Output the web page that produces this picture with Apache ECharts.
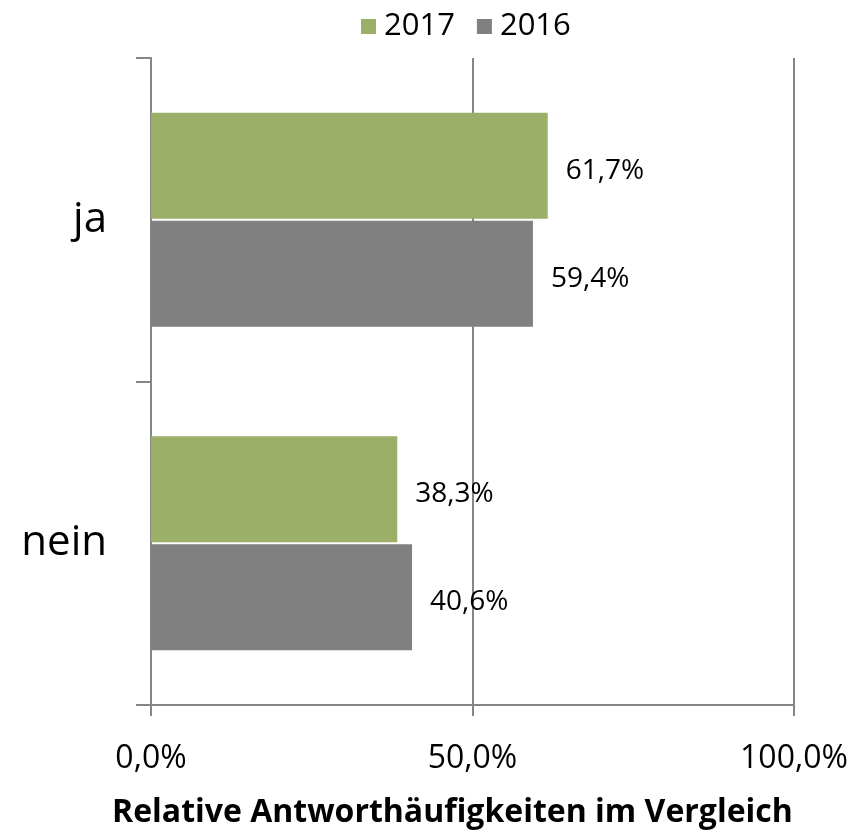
<!DOCTYPE html>
<html>
<head>
<meta charset="utf-8">
<script src="https://cdn.jsdelivr.net/npm/echarts@6/dist/echarts.min.js"></script>
<style>
  html, body { margin: 0; padding: 0; background: #fff; }
  #chart { width: 860px; height: 839px; }
</style>
</head>
<body>
<div id="chart"></div>
<script>
  'use strict';
  var categories = ['ja', 'nein'];
  var seriesNames = ['2017', '2016'];
  var values2017 = [61.7, 38.3];
  var values2016 = [59.4, 40.6];
  var xTicks = { min: 0, max: 100, interval: 50 };

  var fontFamily = '"Open Sans", Lato, sans-serif';
  var lineColor = '#868686';

  function pct(v) {
    return v.toFixed(1).replace('.', ',') + '%';
  }

  function barSeries(name, data, color) {
    return {
      name: name,
      type: 'bar',
      data: data,
      barWidth: 106,
      barGap: '2%',
      itemStyle: { color: color },
      label: {
        show: true,
        position: 'right',
        distance: 18,
        offset: [0, 5],
        fontFamily: fontFamily,
        fontSize: 28,
        color: '#000',
        formatter: function(p) { return pct(p.value); }
      }
    };
  }

  var chart = echarts.init(document.getElementById('chart'));
  chart.setOption({
    backgroundColor: '#fff',
    animation: false,
    textStyle: { fontFamily: fontFamily },
    legend: {
      top: 6,
      left: 356,
      itemWidth: 15,
      itemHeight: 15,
      itemGap: 22,
      icon: 'rect',
      textStyle: { fontFamily: fontFamily, fontSize: 31, color: '#000', padding: [0, 0, 0, 3] },
      data: seriesNames
    },
    title: {
      text: 'Relative Antworthäufigkeiten im Vergleich',
      left: 107,
      top: 792,
      textStyle: { fontFamily: fontFamily, fontSize: 32, fontWeight: 'bold', color: '#000' }
    },
    grid: { left: 151, right: 66, top: 58, bottom: 134, containLabel: false },
    xAxis: {
      type: 'value',
      min: xTicks.min,
      max: xTicks.max,
      interval: xTicks.interval,
      axisLine: { show: true, lineStyle: { color: lineColor, width: 2 } },
      axisTick: { show: true, length: 11, lineStyle: { color: lineColor, width: 2 } },
      splitLine: { show: true, lineStyle: { color: lineColor, width: 2 } },
      axisLabel: {
        margin: 38,
        fontFamily: fontFamily,
        fontSize: 32,
        color: '#000',
        formatter: function(v) { return pct(v); }
      }
    },
    yAxis: {
      type: 'category',
      inverse: true,
      data: categories,
      axisLine: { show: true, lineStyle: { color: lineColor, width: 2 } },
      axisTick: { show: true, length: 15, alignWithLabel: false, lineStyle: { color: lineColor, width: 2 } },
      axisLabel: { margin: 44, fontFamily: fontFamily, fontSize: 42, color: '#000' }
    },
    series: [
      barSeries(seriesNames[0], values2017, '#9BAF69'),
      barSeries(seriesNames[1], values2016, '#808080')
    ]
  });
</script>
</body>
</html>
